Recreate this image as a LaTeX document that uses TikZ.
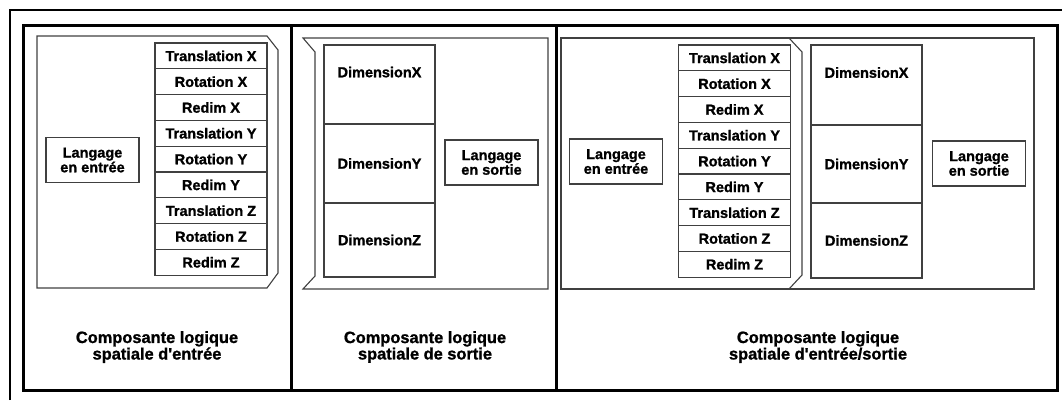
\documentclass[tikz,border=0pt]{standalone}
\usepackage{fontspec}
\setmainfont{Liberation Sans}[BoldFeatures={FakeBold=1.2}]
\tikzset{
  thin line/.style={draw=black!75, line width=1.1pt},
  cell/.style={thin line, minimum width=112pt, minimum height=25.8pt, inner sep=0pt,
    font=\fontsize{14.5}{12.5}\selectfont\bfseries},
  dimcell/.style={thin line, minimum width=111pt, inner sep=0pt,
    font=\fontsize{14.5}{12.5}\selectfont\bfseries},
  langbox/.style={thin line, minimum width=93pt, minimum height=45pt, inner sep=0pt, align=center,
    font=\fontsize{14.5}{12.5}\selectfont\bfseries},
  title/.style={align=center, inner sep=0pt, font=\fontsize{16.4}{13.5}\selectfont\bfseries}
}
\begin{document}
\begin{tikzpicture}[x=1pt, y=-1pt]
\useasboundingbox (0,0) rectangle (1062,400);
% frames
\draw[line width=1.6pt] (10,400) -- (10,10) -- (1062,10);
\draw[line width=3pt] (23,25) rectangle (1057,390);
\draw[line width=3pt] (291,25) -- (291,390);
\draw[line width=3pt] (556,25) -- (556,390);

% entree
\draw[thin line] (37,36) -- (267,36) -- (278,50) -- (278,273) -- (267,288) -- (37,288) -- cycle;
\foreach \t [count=\i] in {Translation X,Rotation X,Redim X,Translation Y,Rotation Y,Redim Y,Translation Z,Rotation Z,Redim Z}
  \node[cell] (ea\i) at (211,{43+25.8*(\i-0.5)}) {\t};
\node[langbox] (lea) at (92.5,160) {Langage\\en entrée};
\node[title] (ta) at (157,347) {Composante logique\\spatiale d\textquotesingle entrée};

% sortie
\draw[thin line] (303,38) -- (548,38) -- (548,289) -- (303,289) -- (315,276) -- (315,52) -- cycle;
\node[dimcell, minimum height=79pt, text depth=25pt] (dxb) at (379.5,84.5) {DimensionX};
\node[dimcell, minimum height=79pt] (dyb) at (379.5,163.5) {DimensionY};
\node[dimcell, minimum height=74pt] (dzb) at (379.5,240) {DimensionZ};
\node[langbox] (lsb) at (491.5,162.5) {Langage\\en sortie};
\node[title] (tb) at (425,347) {Composante logique\\spatiale de sortie};

% entree/sortie
\draw[thin line] (561,38) rectangle (1034,289);
\draw[thin line] (789,38) -- (802,52) -- (802,275) -- (789,289);
\foreach \t [count=\i] in {Translation X,Rotation X,Redim X,Translation Y,Rotation Y,Redim Y,Translation Z,Rotation Z,Redim Z}
  \node[cell] (ec\i) at (734.5,{45+25.8*(\i-0.5)}) {\t};
\node[dimcell, minimum height=80pt, text depth=25pt] (dxc) at (866.5,85) {DimensionX};
\node[dimcell, minimum height=78pt] (dyc) at (866.5,164) {DimensionY};
\node[dimcell, minimum height=75pt] (dzc) at (866.5,240.5) {DimensionZ};
\node[langbox] (lec) at (616,161.5) {Langage\\en entrée};
\node[langbox] (lsc) at (979,163.5) {Langage\\en sortie};
\node[title] (tc) at (818,347) {Composante logique\\spatiale d\textquotesingle entrée/sortie};
\end{tikzpicture}
\end{document}
